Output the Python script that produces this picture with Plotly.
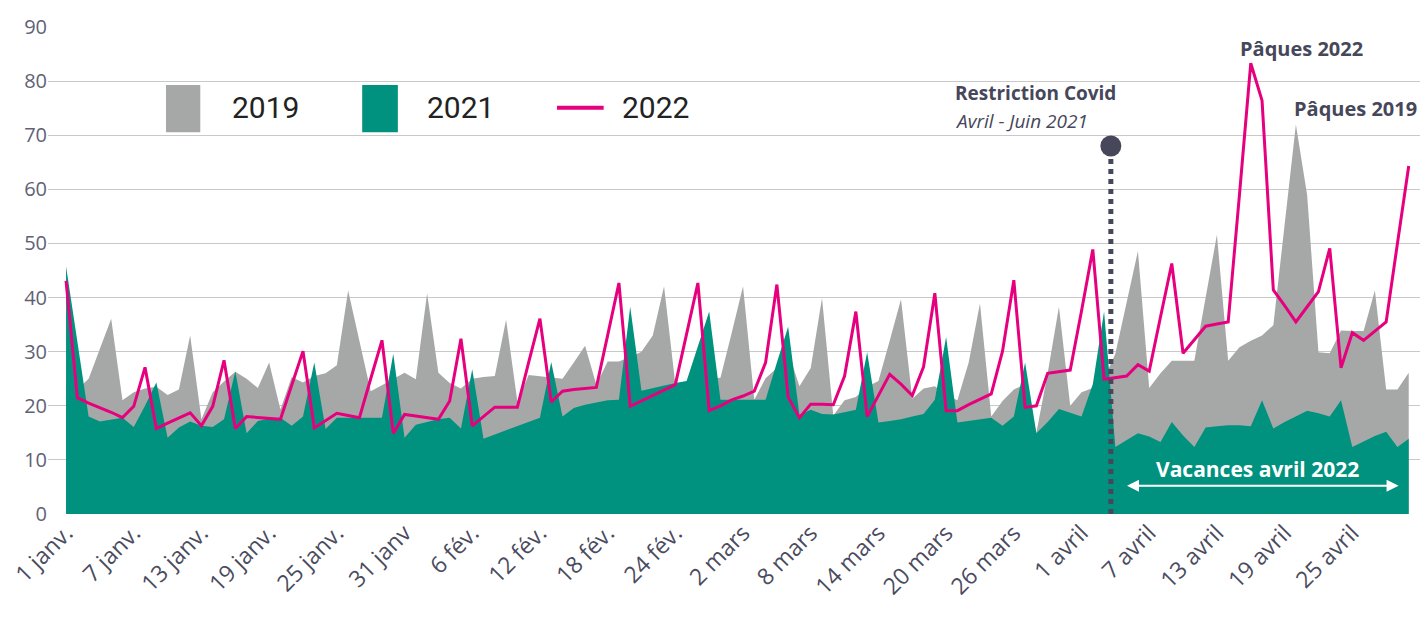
import plotly.graph_objects as go

# ---------------- data (daily, 1 janv. -> 30 avril) ----------------
DAYS = list(range(120))

Y2019 = [24, 23, 25, 30.5, 36.1, 21, 22.5, 23.2, 23.5, 22,
         23, 33, 17.5, 22.5, 24.5, 26.3, 25, 23.3, 28, 19.3,
         25.3, 24.3, 25.5, 26, 27.5, 41.3, 32, 22.7, 23.8, 25,
         26.1, 24.9, 40.8, 26.1, 24.2, 23.2, 25, 25.3, 25.5, 35.9,
         20.8, 25.7, 25.5, 25.2, 25, 28, 31.1, 23.9, 28.2, 28.2,
         29, 30, 33, 42.1, 24, 24.5, 26, 25, 25.2, 33.5,
         42.1, 21.1, 25.1, 27, 30, 23.6, 27, 39.9, 18.2, 21,
         21.6, 23.5, 24.6, 32, 39.7, 21.3, 23.2, 23.6, 22, 21,
         28, 38.9, 18, 20.9, 23, 24, 15, 26, 38.3, 20,
         22.5, 23.3, 25, 29.6, 39, 48.6, 23.3, 26, 28.3, 28.3,
         28.3, 40, 51.6, 28.3, 30.8, 32, 33, 34.9, 53.5, 72,
         58.9, 29.9, 29.7, 33.9, 33.8, 33.8, 41.3, 23, 23, 26.1]

Y2021 = [45.8, 32, 18, 17.1, 17.5, 17.8, 16.1, 20, 24.3, 14.1,
         16, 17.1, 16.3, 16.1, 17.5, 26.4, 14.9, 17.2, 17.6, 17.8,
         16.3, 18, 28, 15.7, 17.8, 17.8, 17.8, 17.8, 17.8, 29.6,
         14.1, 16.5, 17, 17.5, 17.8, 15.8, 26.75, 13.9, 14.7, 15.5,
         16.3, 17, 17.8, 28.1, 18, 19.6, 20.2, 20.6, 21, 21.1,
         38.3, 22.8, 23.3, 23.8, 24.2, 24.6, 31, 37.4, 21.1, 21.1,
         21.1, 21.1, 21.1, 28, 34.6, 18.3, 19.25, 18.5, 18.4, 18.8,
         19.25, 29.9, 16.9, 17.2, 17.5, 18, 18.5, 21.1, 32.7, 16.9,
         17.2, 17.5, 17.8, 16.3, 18, 28, 14.9, 17, 19.4, 18.7,
         18, 24, 37.4, 12.4, 13.6, 14.9, 14.3, 13.3, 17, 14.5,
         12.4, 16, 16.2, 16.4, 16.4, 16.2, 21, 15.8, 17, 18,
         19.1, 18.6, 18, 21, 12.4, 13.4, 14.4, 15.2, 12.4, 13.9]

Y2022 = [43.1, 21.5, 20.5, 19.7, 18.8, 17.8, 19.9, 27.1, 15.8, 16.8,
         17.8, 18.7, 16.3, 19.9, 28.4, 15.8, 18, 17.8, 17.7, 17.5,
         23.8, 30.1, 15.9, 17.3, 18.6, 18.2, 17.8, 25, 32.1, 14.9,
         18.4, 18.1, 17.8, 17.5, 20.9, 32.4, 16.3, 18, 19.75, 19.75,
         19.75, 28, 36.1, 20.7, 22.7, 23, 23.2, 23.4, 33, 42.7,
         19.9, 20.9, 21.9, 22.9, 23.9, 33.3, 42.7, 19.1, 20, 21.1,
         21.8, 22.7, 28, 42.4, 21.6, 17.8, 20.3, 20.3, 20.2, 25.5,
         37.4, 18, 22, 25.8, 24, 21.9, 27.2, 40.8, 19.1, 19.1,
         20.2, 21.2, 22.2, 30.1, 43.2, 19.7, 20, 26, 26.3, 26.6,
         37.5, 48.9, 24.9, 25.2, 25.5, 27.6, 26.4, 36.4, 46.3, 29.7,
         32.2, 34.7, 35.1, 35.5, 59, 83.3, 76.4, 41.4, 38.5, 35.5,
         38.3, 41.1, 49.1, 27, 33.5, 32.1, 33.8, 35.5, 50, 64.3]

TICK_DAYS = [0, 6, 12, 18, 24, 30, 36, 42, 48, 54, 60, 66, 72, 78, 84,
             90, 96, 102, 108, 114]
TICK_LABELS = ["1 janv.", "7 janv.", "13 janv.", "19 janv.", "25 janv.",
               "31 janv", "6 fév.", "12 fév.", "18 fév.", "24 fév.",
               "2 mars", "8 mars", "14 mars", "20 mars", "26 mars",
               "1 avril", "7 avril", "13 avril", "19 avril", "25 avril"]

SERIES_NAMES = ["2019", "2021", "2022"]

# annotation anchors (data coordinates)
COVID_DAY = 92.6
COVID_TOP = 68
VAC_START, VAC_END, VAC_Y = 93.9, 118.1, 5.2

GREY = "#a6a8a7"
TEAL = "#00927f"
PINK = "#e6007e"
SLATE = "#46475a"
FONT = "Open Sans"

fig = go.Figure()
fig.add_trace(go.Scatter(x=DAYS, y=Y2019, mode="lines", fill="tozeroy",
                         line=dict(width=0, color=GREY), fillcolor=GREY,
                         name=SERIES_NAMES[0], showlegend=False, hoverinfo="skip"))
fig.add_trace(go.Scatter(x=DAYS, y=Y2021, mode="lines", fill="tozeroy",
                         line=dict(width=0, color=TEAL), fillcolor=TEAL,
                         name=SERIES_NAMES[1], showlegend=False, hoverinfo="skip"))
fig.add_trace(go.Scatter(x=DAYS, y=Y2022, mode="lines",
                         line=dict(width=3, color=PINK),
                         name=SERIES_NAMES[2], showlegend=False, hoverinfo="skip"))

# covid restriction marker
fig.add_shape(type="line", x0=COVID_DAY, x1=COVID_DAY, y0=0, y1=COVID_TOP,
              line=dict(color=SLATE, width=5, dash="dot"), layer="above")
fig.add_trace(go.Scatter(x=[COVID_DAY], y=[COVID_TOP], mode="markers",
                         marker=dict(size=21, color=SLATE), showlegend=False,
                         hoverinfo="skip"))

annotations = [
    dict(x=78.6, y=77.8, xref="x", yref="y", text="<b>Restriction Covid</b>",
         showarrow=False, xanchor="left", yanchor="middle",
         font=dict(family=FONT, size=19, color=SLATE)),
    dict(x=78.6, y=72.7, xref="x", yref="y", text="<i>Avril - Juin 2021</i>",
         showarrow=False, xanchor="left", yanchor="middle",
         font=dict(family=FONT, size=19, color=SLATE)),
    dict(x=109.5, y=86.1, xref="x", yref="y", text="<b>Pâques 2022</b>",
         showarrow=False, xanchor="center", yanchor="middle",
         font=dict(family=FONT, size=20, color=SLATE)),
    dict(x=119.9, y=75.0, xref="x", yref="y", text="<b>Pâques 2019</b>",
         showarrow=False, xanchor="right", yanchor="middle",
         font=dict(family=FONT, size=20, color=SLATE)),
    dict(x=105.6, y=8.4, xref="x", yref="y", text="<b>Vacances avril 2022</b>",
         showarrow=False, xanchor="center", yanchor="middle",
         font=dict(family=FONT, size=21, color="white")),
    dict(x=VAC_END, y=VAC_Y, ax=VAC_START, ay=VAC_Y, xref="x", yref="y",
         axref="x", ayref="y", text="", showarrow=True, arrowhead=2,
         arrowside="end+start", arrowsize=1.2, arrowwidth=2, arrowcolor="white"),
]

# custom legend (paper coordinates)
legend_items = [
    (0.086, 0.111, GREY, "rect", 0.1327, SERIES_NAMES[0]),
    (0.229, 0.255, TEAL, "rect", 0.275, SERIES_NAMES[1]),
    (0.371, 0.405, PINK, "line", 0.417, SERIES_NAMES[2]),
]
for x0, x1, col, kind, tx, label in legend_items:
    if kind == "rect":
        fig.add_shape(type="rect", xref="paper", yref="paper", x0=x0, x1=x1,
                      y0=0.784, y1=0.881, fillcolor=col, line=dict(width=0))
    else:
        fig.add_shape(type="line", xref="paper", yref="paper", x0=x0, x1=x1,
                      y0=0.834, y1=0.834, line=dict(color=col, width=4))
    annotations.append(dict(x=tx, y=0.834, xref="paper", yref="paper", text=label,
                            showarrow=False, xanchor="left", yanchor="middle",
                            font=dict(family="Roboto", size=30, color="#222222")))

fig.update_layout(
    width=1420, height=621,
    margin=dict(l=48, r=0, t=27, b=107, autoexpand=False),
    paper_bgcolor="white", plot_bgcolor="white",
    showlegend=False,
    annotations=annotations,
    xaxis=dict(range=[-1.6, 120.0], tickmode="array", tickvals=TICK_DAYS,
               ticktext=TICK_LABELS, tickangle=-45, showgrid=False,
               zeroline=False, showline=False, ticks="", automargin=False,
               tickfont=dict(family=FONT, size=23, color="#4a4b5e")),
    yaxis=dict(range=[0, 90], dtick=10, showgrid=True, gridcolor="#c9c9c9",
               gridwidth=1.2, zeroline=False, showline=False, ticks="",
               automargin=False,
               tickfont=dict(family=FONT, size=20, color="#5f6275")),
)

fig.write_html("out.html",
               config={"displayModeBar": False},
               post_script="document.body.style.margin='0';"
                           "document.body.style.overflow='hidden';")
